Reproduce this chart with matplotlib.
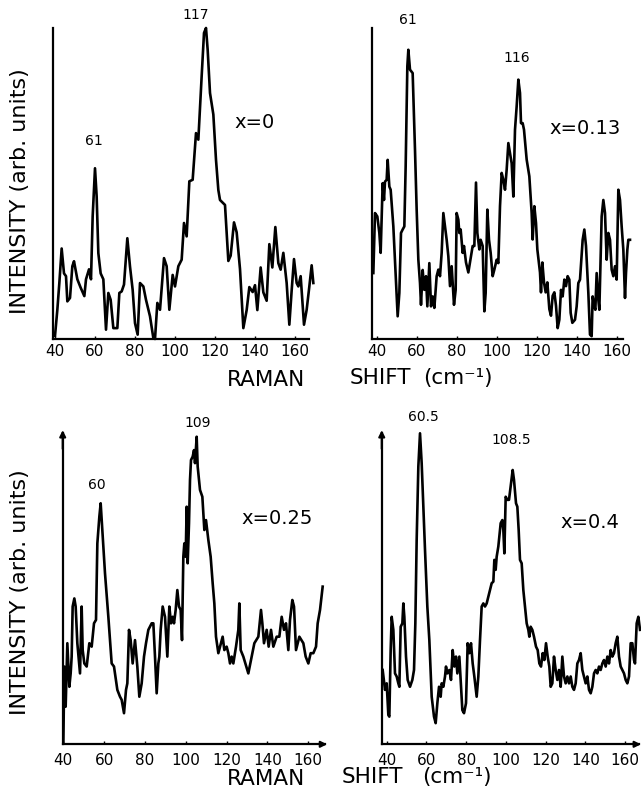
import matplotlib
matplotlib.use("Agg")
import matplotlib.pyplot as plt

# ---------------- data (Raman shift in cm^-1, intensity in arb. units) ----------------
tick_values = [40, 60, 80, 100, 120, 140, 160]

tl_shift = [40.0, 41.17, 42.17, 43.33, 44.5, 45.5, 46.17, 47.5, 48.67, 49.5,
            51.17, 52.83, 54.67, 55.5, 57.0, 58.0, 58.83, 60.0, 60.83, 61.67,
            62.83, 64.17, 65.5, 66.67, 67.83, 69.17, 71.17, 72.17, 73.33, 74.5,
            76.17, 77.5, 78.83, 80.0, 81.33, 82.5, 84.17, 85.5, 87.5, 89.17,
            90.0, 91.17, 92.5, 94.5, 95.83, 97.17, 98.83, 100.0, 101.67, 103.33,
            104.5, 105.83, 107.17, 108.83, 110.5, 111.67, 113.33, 114.5, 115.5, 116.33,
            117.5, 119.17, 120.5, 121.67, 122.5, 125.0, 126.67, 127.83, 129.5, 130.83,
            132.5, 134.17, 135.83, 137.17, 138.83, 140.0, 141.17, 142.83, 144.17, 145.83,
            147.17, 148.67, 150.17, 151.67, 152.83, 154.17, 155.83, 157.17, 158.33, 159.5,
            160.83, 161.67, 162.83, 164.5, 165.83, 167.17, 168.33, 169.17]
tl_int = [1.0, 9.4, 18.0, 29.1, 21.1, 20.2, 12.1, 13.2, 23.4, 25.0,
          19.2, 16.5, 13.8, 19.2, 22.4, 19.2, 39.4, 54.9, 45.8, 27.6,
          21.1, 19.2, 3.0, 14.8, 12.6, 3.5, 3.5, 14.8, 15.3, 17.5,
          32.4, 23.3, 15.8, 5.1, 1.4, 18.0, 16.9, 12.6, 7.3, 0.3,
          0.0, 11.6, 9.4, 26.0, 23.4, 9.4, 20.6, 16.9, 23.4, 25.5,
          37.3, 33.0, 50.7, 51.2, 66.2, 64.1, 84.5, 98.4, 100.0, 93.0,
          79.1, 72.2, 57.6, 47.9, 44.7, 43.1, 25.1, 26.8, 37.5, 34.3,
          22.5, 3.5, 9.3, 16.7, 15.1, 17.3, 9.3, 23.0, 15.0, 12.3,
          30.5, 23.0, 36.0, 24.4, 22.3, 27.7, 18.0, 4.6, 15.6, 25.7,
          18.0, 16.9, 20.2, 4.6, 9.4, 16.9, 23.7, 18.0]

tr_shift = [38.32, 39.15, 40.32, 41.32, 41.98, 42.98, 43.65, 44.15, 44.98, 45.48,
            46.32, 46.98, 48.32, 49.65, 50.48, 51.32, 52.15, 52.98, 53.82, 54.48,
            55.32, 55.82, 56.65, 57.98, 59.15, 59.98, 60.82, 61.65, 62.15, 62.98,
            63.82, 64.65, 65.32, 66.32, 67.15, 67.98, 68.82, 69.98, 70.82, 71.65,
            72.48, 73.32, 74.15, 74.98, 75.82, 76.65, 77.48, 78.65, 79.48, 79.98,
            80.82, 81.32, 81.98, 82.98, 83.65, 84.65, 85.82, 86.65, 87.98, 88.82,
            89.65, 90.32, 91.32, 91.98, 92.98, 93.82, 94.48, 95.32, 96.15, 96.98,
            97.98, 98.82, 99.98, 100.82, 101.65, 102.48, 103.32, 104.15, 104.98, 105.82,
            106.65, 107.48, 108.32, 109.15, 109.98, 110.82, 111.65, 112.15, 112.98, 113.65,
            114.98, 116.32, 117.48, 117.98, 118.82, 119.65, 120.32, 121.65, 122.15, 122.82,
            123.65, 124.48, 125.32, 126.32, 127.15, 127.98, 128.82, 129.65, 130.48, 131.32,
            132.15, 132.98, 133.82, 134.65, 135.48, 136.32, 136.98, 137.82, 139.15, 139.98,
            140.82, 141.65, 142.98, 143.82, 144.65, 145.82, 146.65, 147.48, 147.98, 148.82,
            149.32, 149.98, 150.82, 151.32, 152.48, 153.32, 154.15, 154.98, 155.82, 156.65,
            157.48, 158.32, 159.15, 159.98, 160.82, 161.65, 162.48, 163.32, 164.15, 164.65,
            165.32, 165.82, 166.65]
tr_int = [21.2, 40.5, 39.4, 34.1, 27.7, 50.1, 44.7, 50.6, 51.2, 57.6,
          49.0, 48.0, 36.2, 18.0, 7.3, 14.8, 34.1, 35.2, 36.2, 55.5,
          87.7, 93.0, 86.6, 85.5, 60.8, 41.6, 25.5, 18.0, 11.0, 22.2,
          15.8, 20.2, 10.5, 24.4, 10.5, 13.7, 10.0, 20.2, 22.3, 20.2,
          27.7, 40.5, 36.2, 31.9, 26.6, 17.0, 23.4, 11.0, 15.8, 40.5,
          38.4, 34.1, 35.2, 27.7, 29.9, 24.6, 21.4, 24.6, 29.9, 29.9,
          50.3, 34.1, 28.8, 31.9, 29.9, 8.9, 14.8, 41.6, 31.9, 27.7,
          20.2, 22.3, 25.5, 24.4, 42.7, 53.4, 51.2, 48.0, 54.4, 63.0,
          59.8, 56.5, 45.8, 67.3, 74.8, 83.4, 79.1, 69.4, 69.4, 67.3,
          57.7, 52.3, 40.5, 32.0, 42.7, 37.3, 28.8, 21.4, 15.0, 24.6,
          18.2, 15.0, 18.2, 9.6, 7.5, 13.9, 15.0, 10.7, 3.5, 6.2,
          15.8, 13.7, 19.1, 17.0, 20.2, 19.1, 8.4, 5.2, 6.2, 10.5,
          18.0, 19.1, 31.9, 35.2, 29.9, 14.8, 1.4, 0.9, 13.7, 10.5,
          9.4, 21.2, 12.6, 9.4, 39.4, 44.7, 40.5, 25.5, 34.1, 31.9,
          22.3, 20.2, 23.4, 19.1, 48.0, 44.7, 36.2, 28.7, 13.2, 21.2,
          28.7, 31.9, 31.9]

bl_shift = [40.02, 40.51, 41.16, 41.98, 42.96, 43.61, 44.10, 44.59, 45.41, 46.06,
            46.88, 48.19, 49.0, 49.5, 50.31, 51.46, 52.76, 53.91, 55.05, 56.03,
            56.69, 57.67, 58.32, 59.14, 60.44, 62.08, 63.71, 64.85, 66.49, 67.80,
            68.61, 69.76, 70.74, 71.39, 72.21, 73.02, 74.0, 75.15, 76.29, 77.27,
            78.42, 79.56, 80.54, 81.69, 83.32, 84.14, 84.95, 85.77, 86.59, 87.08,
            87.73, 88.71, 89.85, 91.0, 91.98, 92.8, 93.61, 94.27, 95.08, 95.9,
            96.72, 97.53, 98.19, 98.84, 99.33, 99.99, 100.48, 100.97, 101.62, 102.11,
            102.6, 103.42, 104.07, 104.56, 105.38, 105.87, 107.01, 108.16, 109.14, 109.95,
            111.1, 112.24, 113.22, 114.04, 114.85, 116.0, 116.82, 118.12, 118.94, 120.08,
            120.9, 121.72, 122.53, 123.35, 124.66, 125.8, 126.29, 126.95, 128.25, 130.7,
            132.01, 133.65, 135.61, 136.91, 137.57, 138.38, 139.69, 140.67, 141.82, 142.96,
            144.59, 145.9, 147.05, 148.19, 149.17, 150.31, 151.13, 152.27, 153.09, 154.07,
            155.71, 157.67, 158.81, 160.12, 161.26, 162.57, 163.88, 164.69, 165.84, 167.14]
bl_int = [0.3, 25.0, 12.1, 32.5, 18.5, 22.8, 28.2, 44.3, 46.9, 44.3,
          32.5, 22.8, 44.3, 30.3, 26.0, 25.0, 32.5, 31.4, 38.9, 40.0,
          64.6, 73.2, 77.5, 68.9, 55.0, 41.0, 26.0, 25.0, 17.5, 15.3,
          14.3, 10.0, 17.5, 19.6, 36.8, 33.5, 26.0, 33.5, 25.0, 15.3,
          19.6, 28.2, 32.5, 36.8, 38.9, 38.9, 28.2, 16.4, 26.0, 28.2,
          36.8, 44.3, 41.0, 28.2, 44.3, 38.9, 41.0, 38.9, 43.2, 49.6,
          44.3, 43.2, 33.5, 60.3, 64.6, 60.3, 76.4, 58.2, 71.1, 85.0,
          91.4, 92.5, 94.6, 90.4, 98.9, 89.3, 81.8, 79.6, 68.9, 72.1,
          65.7, 60.3, 51.8, 45.3, 34.6, 29.3, 31.4, 34.6, 30.3, 31.4,
          29.3, 26.0, 28.2, 26.0, 31.4, 36.8, 45.3, 30.3, 28.2, 22.8,
          27.1, 32.5, 34.6, 43.2, 38.9, 32.5, 36.8, 31.4, 36.8, 31.4,
          34.6, 34.6, 41.0, 36.8, 38.9, 30.3, 40.0, 46.4, 44.3, 30.3,
          34.6, 32.5, 28.2, 26.0, 29.3, 29.3, 31.4, 38.9, 43.2, 50.7]

br_shift = [37.97, 39.15, 39.99, 40.83, 41.33, 42.0, 42.51, 43.34, 44.18, 45.02,
            45.86, 46.37, 47.04, 47.88, 48.38, 48.88, 49.72, 50.56, 51.74, 52.91,
            53.75, 54.42, 55.09, 55.93, 56.77, 57.61, 58.45, 59.29, 60.46, 61.47,
            62.65, 63.82, 64.66, 65.5, 66.34, 67.18, 67.68, 68.52, 69.36, 69.86,
            70.53, 71.54, 72.38, 73.22, 74.06, 74.9, 75.57, 76.58, 77.25, 78.09,
            78.93, 79.93, 80.77, 81.61, 82.45, 83.29, 84.13, 85.3, 86.14, 86.98,
            87.82, 88.66, 89.5, 90.34, 91.18, 92.02, 92.86, 93.7, 94.2, 94.87,
            95.37, 96.21, 96.72, 97.39, 98.23, 98.73, 99.24, 99.91, 100.75, 101.58,
            102.42, 103.43, 104.1, 105.11, 105.78, 106.45, 107.12, 107.96, 108.8, 109.64,
            110.48, 111.32, 111.82, 112.49, 113.33, 114.17, 115.18, 116.02, 116.86, 117.7,
            118.54, 119.38, 120.22, 121.05, 121.89, 122.57, 123.4, 124.24, 125.08, 125.92,
            126.76, 127.6, 128.44, 129.28, 130.12, 130.96, 131.8, 132.64, 133.47, 134.31,
            135.15, 135.99, 136.83, 137.67, 138.51, 139.35, 140.19, 141.03, 141.87, 142.71,
            143.55, 144.39, 145.22, 146.06, 146.9, 147.74, 148.58, 149.42, 150.26, 151.1,
            151.94, 152.78, 153.62, 154.45, 155.29, 156.13, 156.97, 157.81, 158.65, 159.49,
            160.33, 161.17, 162.01, 162.85, 163.69, 164.53, 165.03, 165.87, 166.71, 167.55]
br_int = [23.9, 17.5, 19.6, 9.4, 8.9, 30.3, 41.0, 36.8, 22.8, 21.8,
          19.6, 18.5, 37.8, 38.9, 45.3, 41.0, 28.2, 20.7, 18.5, 20.7,
          23.9, 38.9, 65.7, 89.3, 100.0, 90.4, 76.4, 62.5, 44.3, 33.5,
          15.3, 8.9, 6.8, 13.2, 18.5, 15.3, 19.6, 18.5, 21.8, 25.0,
          22.8, 23.9, 20.7, 30.3, 25.0, 28.2, 22.8, 28.2, 20.7, 11.0,
          10.0, 13.2, 32.5, 29.3, 32.5, 26.0, 21.8, 15.3, 21.8, 33.5,
          44.3, 45.3, 44.3, 45.3, 47.5, 49.6, 51.8, 52.3, 59.3, 56.1,
          60.3, 63.6, 66.8, 71.1, 72.1, 68.9, 61.4, 79.6, 78.6, 78.6,
          82.9, 88.2, 85.0, 77.5, 76.4, 68.9, 59.3, 58.2, 49.6, 44.3,
          38.9, 36.8, 34.6, 37.8, 36.8, 34.6, 31.4, 30.3, 26.0, 25.0,
          29.3, 27.1, 32.5, 28.2, 25.0, 18.5, 19.6, 28.2, 23.9, 20.7,
          23.9, 18.5, 28.2, 21.8, 19.6, 21.8, 19.6, 21.8, 18.5, 17.5,
          19.6, 26.0, 27.1, 29.3, 23.9, 21.8, 19.6, 21.8, 17.5, 16.4,
          18.5, 22.8, 23.9, 22.8, 25.0, 23.9, 26.0, 27.1, 25.0, 28.2,
          26.0, 30.3, 28.2, 29.3, 32.5, 34.6, 28.2, 25.0, 23.9, 22.8,
          20.7, 19.6, 21.8, 32.5, 32.5, 27.1, 26.0, 38.9, 41.0, 36.8]

compositions = ["x=0", "x=0.13", "x=0.25", "x=0.4"]
peak_labels = [["117", "61"], ["61", "116"], ["60", "109"], ["60.5", "108.5"]]
y_label = "INTENSITY (arb. units)"

# ---------------- layout (pixels of the 641 x 792 canvas) ----------------
W, H = 641, 792
fig = plt.figure(figsize=(W / 100, H / 100), dpi=100)
fig.patch.set_facecolor("white")

SY = 3.11  # pixels per intensity unit (100 units = full axis)


def fx(px):
    return px / W


def fy(py):
    return 1 - py / H


def panel(shift, inten, yaxis_x, x40_px, sx, base_py, xend, arrows, pad):
    left_px = x40_px + sx * (yaxis_x - 40)
    right_px = left_px + 300
    top_py = base_py - 330
    ax = fig.add_axes([fx(left_px), fy(base_py), (right_px - left_px) / W,
                       (base_py - top_py) / H])
    ax.set_xlim(yaxis_x, yaxis_x + (right_px - left_px) / sx)
    ax.set_ylim(0, (base_py - top_py) / SY)
    ax.patch.set_alpha(0)
    ax.plot(shift, inten, color="black", lw=1.9, clip_on=False,
            solid_joinstyle="round")
    for s in ("top", "right"):
        ax.spines[s].set_visible(False)
    ax.spines["left"].set_bounds(0, 100)
    ax.spines["bottom"].set_bounds(yaxis_x, xend)
    for s in ("left", "bottom"):
        ax.spines[s].set_linewidth(1.6)
    ax.set_yticks([])
    ax.set_xticks(tick_values)
    ax.tick_params(axis="x", direction="in", length=2, width=1,
                   labelsize=11, pad=pad)
    if arrows:
        ap = dict(arrowstyle="-|>", color="black", lw=1.5,
                  mutation_scale=9, shrinkA=0, shrinkB=0)
        ax.annotate("", xy=(yaxis_x, 101), xytext=(yaxis_x, 95),
                    arrowprops=ap, annotation_clip=False)
        ax.annotate("", xy=(xend + 1, 0), xytext=(xend - 2, 0),
                    arrowprops=ap, annotation_clip=False)
    return ax


panel(tl_shift, tl_int, 39.2, 55.0, 2.0, 339.0, 167.2, False, 3.5)
panel(tr_shift, tr_int, 37.8, 376.7, 2.0, 339.0, 163.3, False, 3.5)
panel(bl_shift, bl_int, 39.7, 63.3, 2.04, 744.3, 168.3, True, 6.0)
panel(br_shift, br_int, 37.5, 386.7, 1.986, 744.3, 167.0, True, 6.0)

# peak annotations and compositions (pixel positions)
peak_pos = [[(195.7, 15), (94.3, 141)], [(408.3, 20), (516.7, 58)],
            [(96.7, 485), (197.3, 423)], [(423.3, 417), (511.7, 440)]]
comp_pos = [(255, 122), (585, 128), (277, 518), (590, 522)]
for labels, poss, comp, cpos in zip(peak_labels, peak_pos, compositions, comp_pos):
    for lab, (px, py) in zip(labels, poss):
        fig.text(fx(px), fy(py), lab, fontsize=10, ha="center", va="center")
    fig.text(fx(cpos[0]), fy(cpos[1]), comp, fontsize=14, ha="center", va="center")

# axis titles
for yc in (191, 592):
    fig.text(fx(20), fy(yc), y_label, rotation=90, fontsize=16,
             ha="center", va="center")
for yb, sh_x, cm_x in ((380, 380, 458), (779, 372, 457)):
    fig.text(fx(266), fy(yb), "RAMAN", fontsize=15.5, ha="center", va="center")
    fig.text(fx(sh_x), fy(yb - 2), "SHIFT", fontsize=15.5, ha="center", va="center")
    fig.text(fx(cm_x), fy(yb - 2), "(cm\u207b\u00b9)", fontsize=15.5,
             ha="center", va="center")

fig.savefig("out.png", dpi=100, facecolor="white")
